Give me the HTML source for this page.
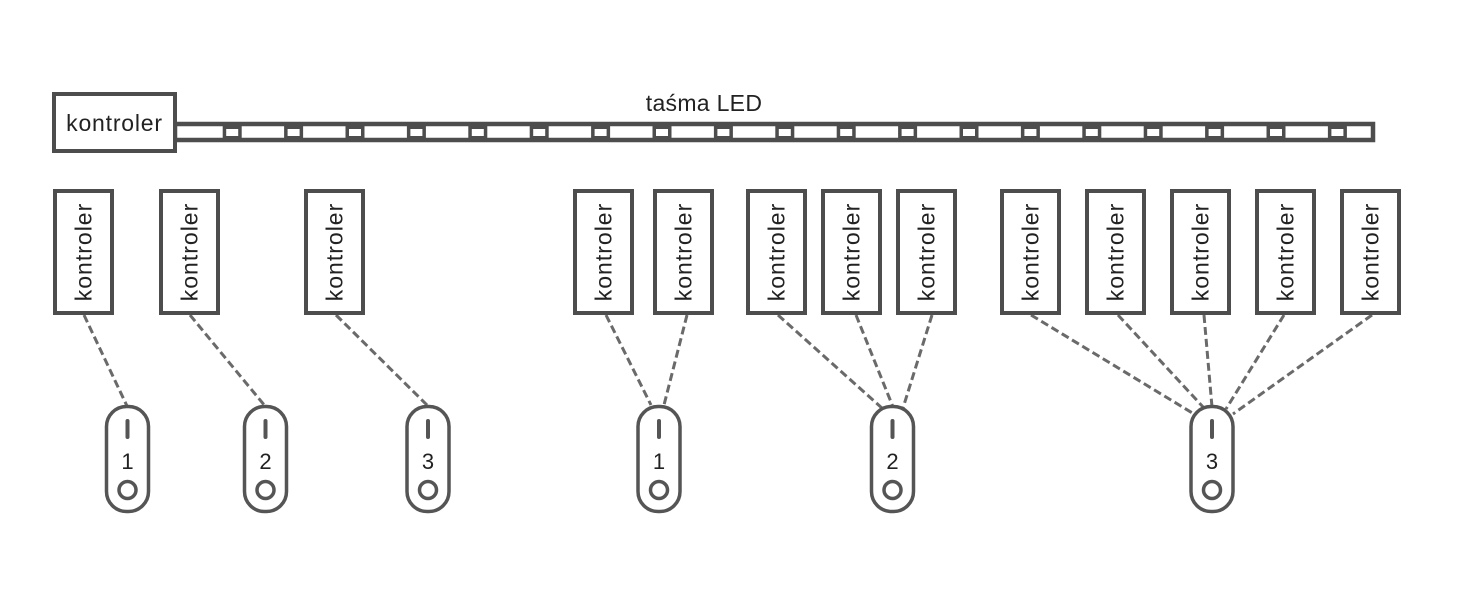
<!DOCTYPE html>
<html>
<head>
<meta charset="utf-8">
<style>
  html, body { margin: 0; padding: 0; background: #ffffff; }
  body { width: 1471px; height: 611px; overflow: hidden; }
  svg { display: block; }
  text { font-family: "Liberation Sans", "DejaVu Sans", sans-serif; fill: #222; }
</style>
</head>
<body>
<svg width="1471" height="611" viewBox="0 0 1471 611" xmlns="http://www.w3.org/2000/svg">
  <rect x="0" y="0" width="1471" height="611" fill="#ffffff"/>

  <!-- LED strip -->
  <text x="704" y="111" font-size="23" text-anchor="middle" letter-spacing="0.3">taśma LED</text>
  <rect x="175" y="124" width="1198" height="16" fill="#ffffff" stroke="#4d4d4d" stroke-width="4.5"/>
  <g id="leds">
    <g fill="#4d4d4d">
      <rect x="222.7" y="126" width="19" height="12"/>
      <rect x="284.1" y="126" width="19" height="12"/>
      <rect x="345.5" y="126" width="19" height="12"/>
      <rect x="406.9" y="126" width="19" height="12"/>
      <rect x="468.3" y="126" width="19" height="12"/>
      <rect x="529.7" y="126" width="19" height="12"/>
      <rect x="591.1" y="126" width="19" height="12"/>
      <rect x="652.5" y="126" width="19" height="12"/>
      <rect x="713.9" y="126" width="19" height="12"/>
      <rect x="775.3" y="126" width="19" height="12"/>
      <rect x="836.7" y="126" width="19" height="12"/>
      <rect x="898.1" y="126" width="19" height="12"/>
      <rect x="959.5" y="126" width="19" height="12"/>
      <rect x="1020.9" y="126" width="19" height="12"/>
      <rect x="1082.3" y="126" width="19" height="12"/>
      <rect x="1143.7" y="126" width="19" height="12"/>
      <rect x="1205.1" y="126" width="19" height="12"/>
      <rect x="1266.5" y="126" width="19" height="12"/>
      <rect x="1327.9" y="126" width="19" height="12"/>
    </g>
    <g fill="#ffffff">
      <rect x="226.2" y="129" width="12" height="7"/>
      <rect x="287.6" y="129" width="12" height="7"/>
      <rect x="349.0" y="129" width="12" height="7"/>
      <rect x="410.4" y="129" width="12" height="7"/>
      <rect x="471.8" y="129" width="12" height="7"/>
      <rect x="533.2" y="129" width="12" height="7"/>
      <rect x="594.6" y="129" width="12" height="7"/>
      <rect x="656.0" y="129" width="12" height="7"/>
      <rect x="717.4" y="129" width="12" height="7"/>
      <rect x="778.8" y="129" width="12" height="7"/>
      <rect x="840.2" y="129" width="12" height="7"/>
      <rect x="901.6" y="129" width="12" height="7"/>
      <rect x="963.0" y="129" width="12" height="7"/>
      <rect x="1024.4" y="129" width="12" height="7"/>
      <rect x="1085.8" y="129" width="12" height="7"/>
      <rect x="1147.2" y="129" width="12" height="7"/>
      <rect x="1208.6" y="129" width="12" height="7"/>
      <rect x="1270.0" y="129" width="12" height="7"/>
      <rect x="1331.4" y="129" width="12" height="7"/>
    </g>
  </g>

  <!-- main controller -->
  <rect x="54" y="94" width="121" height="57" fill="#ffffff" stroke="#4d4d4d" stroke-width="4"/>
  <text x="114.5" y="131" font-size="23" text-anchor="middle" letter-spacing="0.8">kontroler</text>

  <!-- dashed connectors -->
  <g stroke="#6a6a6a" stroke-width="3" stroke-dasharray="8 4" fill="none">
    <line x1="84" y1="315" x2="127" y2="406"/>
    <line x1="190" y1="315" x2="265" y2="406"/>
    <line x1="336" y1="315" x2="428" y2="406"/>

    <line x1="606" y1="315" x2="651" y2="405"/>
    <line x1="687" y1="315" x2="664" y2="405"/>

    <line x1="778" y1="315" x2="883" y2="409"/>
    <line x1="856" y1="315" x2="893" y2="407"/>
    <line x1="932" y1="315" x2="903" y2="408"/>

    <line x1="1031" y1="315" x2="1194" y2="414"/>
    <line x1="1118" y1="315" x2="1204" y2="408"/>
    <line x1="1204" y1="315" x2="1212" y2="407"/>
    <line x1="1284" y1="315" x2="1226" y2="409"/>
    <line x1="1372" y1="315" x2="1233" y2="414"/>
  </g>

  <!-- vertical controllers -->
  <g stroke="#4d4d4d" stroke-width="4" fill="#ffffff">
    <rect x="55" y="191" width="57" height="122"/>
    <rect x="161" y="191" width="57" height="122"/>
    <rect x="306" y="191" width="57" height="122"/>
    <rect x="575" y="191" width="57" height="122"/>
    <rect x="655" y="191" width="57" height="122"/>
    <rect x="748" y="191" width="57" height="122"/>
    <rect x="823" y="191" width="57" height="122"/>
    <rect x="898" y="191" width="57" height="122"/>
    <rect x="1002" y="191" width="57" height="122"/>
    <rect x="1087" y="191" width="57" height="122"/>
    <rect x="1172" y="191" width="57" height="122"/>
    <rect x="1257" y="191" width="57" height="122"/>
    <rect x="1342" y="191" width="57" height="122"/>
  </g>
  <g font-size="23" text-anchor="middle" letter-spacing="1">
    <text transform="translate(91.5,252) rotate(-90)">kontroler</text>
    <text transform="translate(197.5,252) rotate(-90)">kontroler</text>
    <text transform="translate(342.5,252) rotate(-90)">kontroler</text>
    <text transform="translate(611.5,252) rotate(-90)">kontroler</text>
    <text transform="translate(691.5,252) rotate(-90)">kontroler</text>
    <text transform="translate(784.5,252) rotate(-90)">kontroler</text>
    <text transform="translate(859.5,252) rotate(-90)">kontroler</text>
    <text transform="translate(934.5,252) rotate(-90)">kontroler</text>
    <text transform="translate(1038.5,252) rotate(-90)">kontroler</text>
    <text transform="translate(1123.5,252) rotate(-90)">kontroler</text>
    <text transform="translate(1208.5,252) rotate(-90)">kontroler</text>
    <text transform="translate(1293.5,252) rotate(-90)">kontroler</text>
    <text transform="translate(1378.5,252) rotate(-90)">kontroler</text>
  </g>

  <!-- switches -->
  <g stroke="#555555" fill="#ffffff">
    <rect x="106.5" y="406.5" width="42" height="105" rx="20" stroke-width="3.5"/>
    <rect x="244.5" y="406.5" width="42" height="105" rx="20" stroke-width="3.5"/>
    <rect x="407" y="406.5" width="42" height="105" rx="20" stroke-width="3.5"/>
    <rect x="638" y="406.5" width="42" height="105" rx="20" stroke-width="3.5"/>
    <rect x="871.5" y="406.5" width="42" height="105" rx="20" stroke-width="3.5"/>
    <rect x="1191" y="406.5" width="42" height="105" rx="20" stroke-width="3.5"/>
  </g>
  <g stroke="#555555" stroke-width="4" stroke-linecap="round">
    <line x1="127.5" y1="421" x2="127.5" y2="437"/>
    <line x1="265.5" y1="421" x2="265.5" y2="437"/>
    <line x1="428" y1="421" x2="428" y2="437"/>
    <line x1="659" y1="421" x2="659" y2="437"/>
    <line x1="892.5" y1="421" x2="892.5" y2="437"/>
    <line x1="1212" y1="421" x2="1212" y2="437"/>
  </g>
  <g stroke="#555555" stroke-width="3.5" fill="none">
    <circle cx="127.5" cy="490" r="8.5"/>
    <circle cx="265.5" cy="490" r="8.5"/>
    <circle cx="428" cy="490" r="8.5"/>
    <circle cx="659" cy="490" r="8.5"/>
    <circle cx="892.5" cy="490" r="8.5"/>
    <circle cx="1212" cy="490" r="8.5"/>
  </g>
  <g font-size="22" text-anchor="middle">
    <text x="127.5" y="469">1</text>
    <text x="265.5" y="469">2</text>
    <text x="428" y="469">3</text>
    <text x="659" y="469">1</text>
    <text x="892.5" y="469">2</text>
    <text x="1212" y="469">3</text>
  </g>
</svg>
</body>
</html>
